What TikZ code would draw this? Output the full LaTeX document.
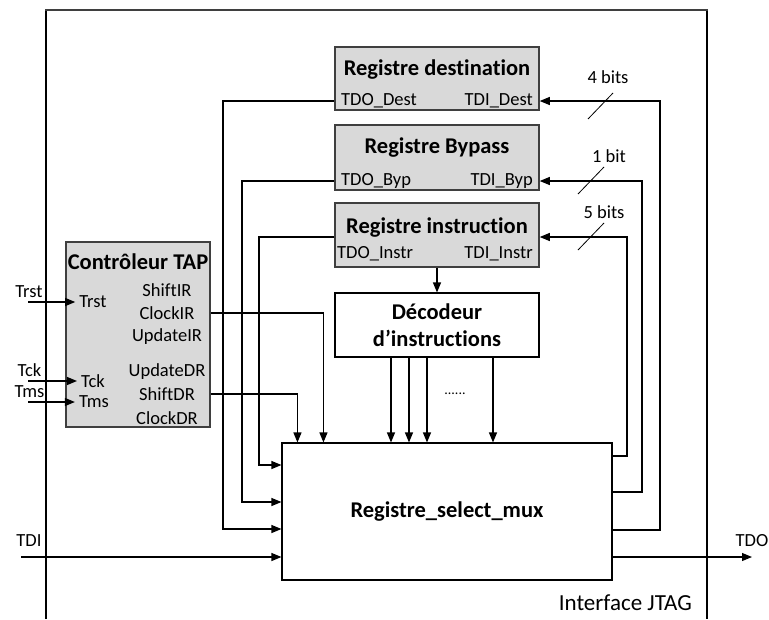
\documentclass[tikz,border=0pt]{standalone}
\usepackage{fontspec}
\setmainfont{Carlito}[Ligatures=NoCommon]
\usetikzlibrary{arrows.meta,calc}
\definecolor{regfill}{HTML}{D9D9D9}
\definecolor{regedge}{HTML}{3F3F3F}
\tikzset{
  wire/.style={line width=1.1pt, draw=black},
  arr/.style={wire, -{Triangle[length=10pt,width=8pt]}},
  regbox/.style={draw=regedge, line width=1.5pt, fill=regfill, inner sep=0pt},
  plainbox/.style={draw=black, line width=1.1pt, fill=white, inner sep=0pt},
  ttl/.style={font=\fontsize{22.5}{27}\selectfont\bfseries, inner sep=0pt},
  lbl/.style={font=\fontsize{18.5}{22}\selectfont, inner sep=0pt},
  bitmark/.style={line width=0.8pt, draw=black},
}
\begin{document}
\begin{tikzpicture}[x=1pt,y=-1pt]
\useasboundingbox (0,0) rectangle (769,619);

% outer frame of the JTAG interface
\draw[line width=1.3pt] (46,619) -- (46,10);
\draw[line width=1.3pt] (707,10) -- (707,619);
\draw[line width=1.8pt, draw=regedge] (45.35,10) -- (707.65,10);
\node[lbl, anchor=east, font=\fontsize{23}{27}\selectfont] (iface) at (692,603) {Interface JTAG};

% registers
\node[regbox, minimum width=204pt, minimum height=63pt] (dest) at (437,78.5) {};
\node[ttl] (destT) at (437,70) {Registre destination};
\node[lbl, anchor=west] (tdoDest) at (341,101) {TDO\_Dest};
\node[lbl, anchor=east] (tdiDest) at (533,101) {TDI\_Dest};

\node[regbox, minimum width=204pt, minimum height=65pt] (byp) at (437,157.5) {};
\node[ttl] (bypT) at (437,148) {Registre Bypass};
\node[lbl, anchor=west] (tdoByp) at (341,181) {TDO\_Byp};
\node[lbl, anchor=east] (tdiByp) at (533,181) {TDI\_Byp};

\node[regbox, minimum width=204pt, minimum height=64pt] (instr) at (437,235) {};
\node[ttl] (instrT) at (437,228) {Registre instruction};
\node[lbl, anchor=west] (tdoInstr) at (337,254) {TDO\_Instr};
\node[lbl, anchor=east] (tdiInstr) at (533,254) {TDI\_Instr};

% instruction decoder
\node[plainbox, minimum width=204pt, minimum height=64pt, align=center,
      font=\fontsize{22.5}{27}\selectfont\bfseries] (dec) at (437,325) {Décodeur\\d’instructions};

% TAP controller
\node[regbox, minimum width=144pt, minimum height=185pt] (tap) at (138,334.5) {};
\node[ttl] (tapT) at (138,262) {Contrôleur TAP};
\node[lbl] (shiftIR)  at (167,290) {ShiftIR};
\node[lbl] (clockIR)  at (167,313) {ClockIR};
\node[lbl] (updIR)    at (167,337) {UpdateIR};
\node[lbl] (updDR)    at (167,372) {UpdateDR};
\node[lbl] (shiftDR)  at (167,394) {ShiftDR};
\node[lbl] (clockDR)  at (167,418) {ClockDR};
\node[lbl] (trstP) at (93,302) {Trst};
\node[lbl] (tckP)  at (93,381) {Tck};
\node[lbl] (tmsP)  at (94,402) {Tms};

% register select multiplexer
\node[plainbox, minimum width=330pt, minimum height=137pt,
      font=\fontsize{22.5}{27}\selectfont\bfseries] (mux) at (447,511.5) {Registre\_select\_mux};

% external TAP inputs
\node[lbl] (trstL) at (29,292) {Trst};
\node[lbl] (tckL)  at (29.5,370) {Tck};
\node[lbl] (tmsL)  at (29.5,392) {Tms};
\coordinate (trstIn) at (28,302);
\coordinate (tckIn)  at (28,381);
\coordinate (tmsIn)  at (28,402);
\draw[arr] (trstIn) -- ([xshift=-4pt]trstP.west);
\draw[arr] (tckIn)  -- ([xshift=-4pt]tckP.west);
\draw[arr] (tmsIn)  -- ([xshift=-4pt]tmsP.west);

% control signals into the multiplexer
\draw[arr] (tap.east |- clockIR) -| ([xshift=42pt]mux.north west);
\draw[arr] (tap.east |- shiftDR) -| ([xshift=16pt]mux.north west);

% instruction register to decoder, decoder to multiplexer
\draw[arr] (instr.south) -- (dec.north);
\draw[arr] ([xshift=-46pt]dec.south) -- ([xshift=-46pt]dec.south |- mux.north);
\draw[arr] ([xshift=-28pt]dec.south) -- ([xshift=-28pt]dec.south |- mux.north);
\draw[arr] ([xshift=-10pt]dec.south) -- ([xshift=-10pt]dec.south |- mux.north);
\draw[arr] ([xshift=56pt]dec.south) -- ([xshift=56pt]dec.south |- mux.north);
\node[lbl, font=\fontsize{14}{16}\selectfont] (dots) at (455,394) {......};

% register outputs back into the multiplexer
\coordinate (loopD) at (223,529);
\coordinate (loopB) at (242,502);
\coordinate (loopI) at (259,465);
\draw[arr] (dest.west |- tdoDest) -| (loopD) -- (loopD -| mux.west);
\draw[arr] (byp.west |- tdoByp) -| (loopB) -- (loopB -| mux.west);
\draw[arr] ([yshift=-2pt]instr.west) -| (loopI) -- (loopI -| mux.west);

% multiplexer outputs to register inputs
\coordinate (loopRD) at (660,530);
\coordinate (loopRB) at (642,492);
\coordinate (loopRI) at (627,456);
\draw[arr] (mux.east |- loopRD) -- (loopRD) |- (dest.east |- tdiDest);
\draw[arr] (mux.east |- loopRB) -- (loopRB) |- (byp.east |- tdiByp);
\draw[arr] (mux.east |- loopRI) -- (loopRI) |- ([yshift=-2pt]instr.east);

% bus widths
\draw[bitmark] (613,93) -- (588,119);
\node[lbl] (w4) at (608,77) {4 bits};
\draw[bitmark] (604,167) -- (578,194);
\node[lbl] (w1) at (609,156) {1 bit};
\draw[bitmark] (604,223) -- (578,250);
\node[lbl] (w5) at (604,212) {5 bits};

% serial data in and out
\coordinate (tdiIn) at (21,557);
\coordinate (tdoOut) at (752,557);
\node[lbl] (tdiL) at (29,541) {TDI};
\node[lbl] (tdoL) at (752,541) {TDO};
\draw[arr] (tdiIn) -- (tdiIn -| mux.west);
\draw[arr] (mux.east |- tdoOut) -- (tdoOut);
\end{tikzpicture}
\end{document}
